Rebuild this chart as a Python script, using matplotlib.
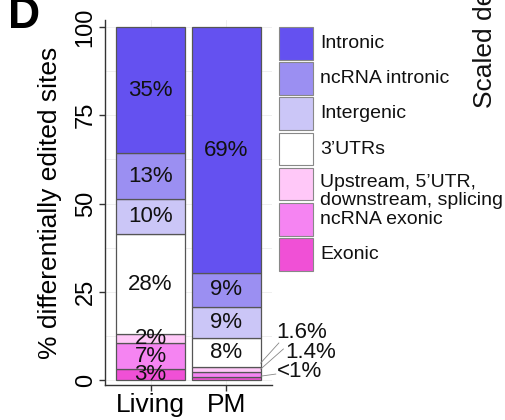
import numpy as np
import matplotlib
matplotlib.use("Agg")
import matplotlib.pyplot as plt
from matplotlib.patches import Rectangle

plt.rcParams['font.family'] = ['Liberation Sans', 'DejaVu Sans']

# categorias (de baixo para cima na pilha)
categorias = ["Exonic", "ncRNA exonic", "Upstream, 5\u2019UTR,\ndownstream, splicing",
              "3\u2019UTRs", "Intergenic", "ncRNA intronic", "Intronic"]
cores = ["#F050D6", "#F584F2", "#FFC8F8", "#FFFFFF", "#CBC6F7", "#9B8FF2", "#6451F0"]
amostras = ["Living", "PM"]
living = [3.1, 7.4, 2.5, 28.4, 9.9, 13.0, 35.7]
pm = [0.8, 1.4, 1.6, 8.1, 8.9, 9.5, 69.7]
rotulos_living = ["3%", "7%", "2%", "28%", "10%", "13%", "35%"]
rotulos_pm = ["", "", "", "8%", "9%", "9%", "69%"]
# rotulos fora da barra do PM
rotulos_fora = ["<1%", "1.4%", "1.6%"]

fig = plt.figure(figsize=(5.05, 4.2), dpi=100)
ax = fig.add_axes([105 / 505, 35 / 420, 167 / 505, 365 / 420])

x = np.arange(1, len(amostras) + 1)
valores = np.array([living, pm])
base = np.zeros(len(amostras))
for i in range(len(categorias)):
    ax.bar(x, valores[:, i], bottom=base, width=0.9, color=cores[i],
           edgecolor="#555555", linewidth=0.9, zorder=2)
    meio = base + valores[:, i] / 2
    if rotulos_living[i]:
        ax.text(x[0], meio[0], rotulos_living[i], ha="center", va="center",
                fontsize=16, color="#111111", zorder=3)
    if rotulos_pm[i]:
        ax.text(x[1], meio[1], rotulos_pm[i], ha="center", va="center",
                fontsize=16, color="#111111", zorder=3)
    base = base + valores[:, i]

# linhas guia para os segmentos pequenos do PM
topos_pm = np.cumsum(pm)
inicio_y = [topos_pm[0] + 0.3, topos_pm[1] + 0.9, topos_pm[2] + 1.0]
fim = [(2.65, 1.7), (2.75, 8.8), (2.69, 10.5)]
texto_pos = [(2.66, 2.5), (2.78, 7.9), (2.66, 13.6)]
for k in range(3):
    ax.plot([2.45, fim[k][0]], [inicio_y[k], fim[k][1]], color="#888888",
            linewidth=0.6, clip_on=False, zorder=3)
    ax.text(texto_pos[k][0], texto_pos[k][1], rotulos_fora[k], ha="left",
            va="center", fontsize=16, color="#111111", clip_on=False)

ax.set_xlim(0.4, 2.6)
ax.set_ylim(-1.4, 102)
ax.set_xticks(x)
ax.set_xticklabels(amostras, fontsize=19)
ax.set_yticks([0, 25, 50, 75, 100])
ax.set_yticklabels(["0", "25", "50", "75", "100"], fontsize=17, rotation=90, va="center")
ax.set_yticks([12.5, 37.5, 62.5, 87.5], minor=True)
ax.tick_params(axis="y", which="minor", length=0)
ax.tick_params(axis="both", which="major", length=4, width=1, color="#333333", pad=2)
ax.grid(True, which="both", color="#EDEDED", linewidth=0.6, zorder=0)
ax.set_axisbelow(True)
for lado in ["top", "right"]:
    ax.spines[lado].set_visible(False)
for lado in ["left", "bottom"]:
    ax.spines[lado].set_color("#333333")
    ax.spines[lado].set_linewidth(1.0)
ax.set_ylabel("% differentially edited sites", fontsize=19, labelpad=9)

# legenda desenhada a mao
for j, i in enumerate(range(len(categorias) - 1, -1, -1)):
    topo = 27 + j * 35.2
    fig.add_artist(Rectangle((279 / 505, 1 - (topo + 32.5) / 420), 34 / 505, 32.5 / 420,
                             facecolor=cores[i], edgecolor="#888888", linewidth=0.8,
                             transform=fig.transFigure))
    cy = topo + 16.5
    if "\n" in categorias[i]:
        cy += 7
    fig.text(320 / 505, 1 - cy / 420, categorias[i], ha="left", va="center",
             fontsize=14, color="#111111", linespacing=1.1)

fig.text(8 / 505, 1 - 28 / 420, "D", fontsize=32, fontweight="bold", ha="left", va="baseline")
fig.text(485 / 505, 1 - 108 / 420, "Scaled density", fontsize=19, rotation=90,
         ha="center", va="bottom", color="#111111")

fig.savefig("out.png", dpi=100)
